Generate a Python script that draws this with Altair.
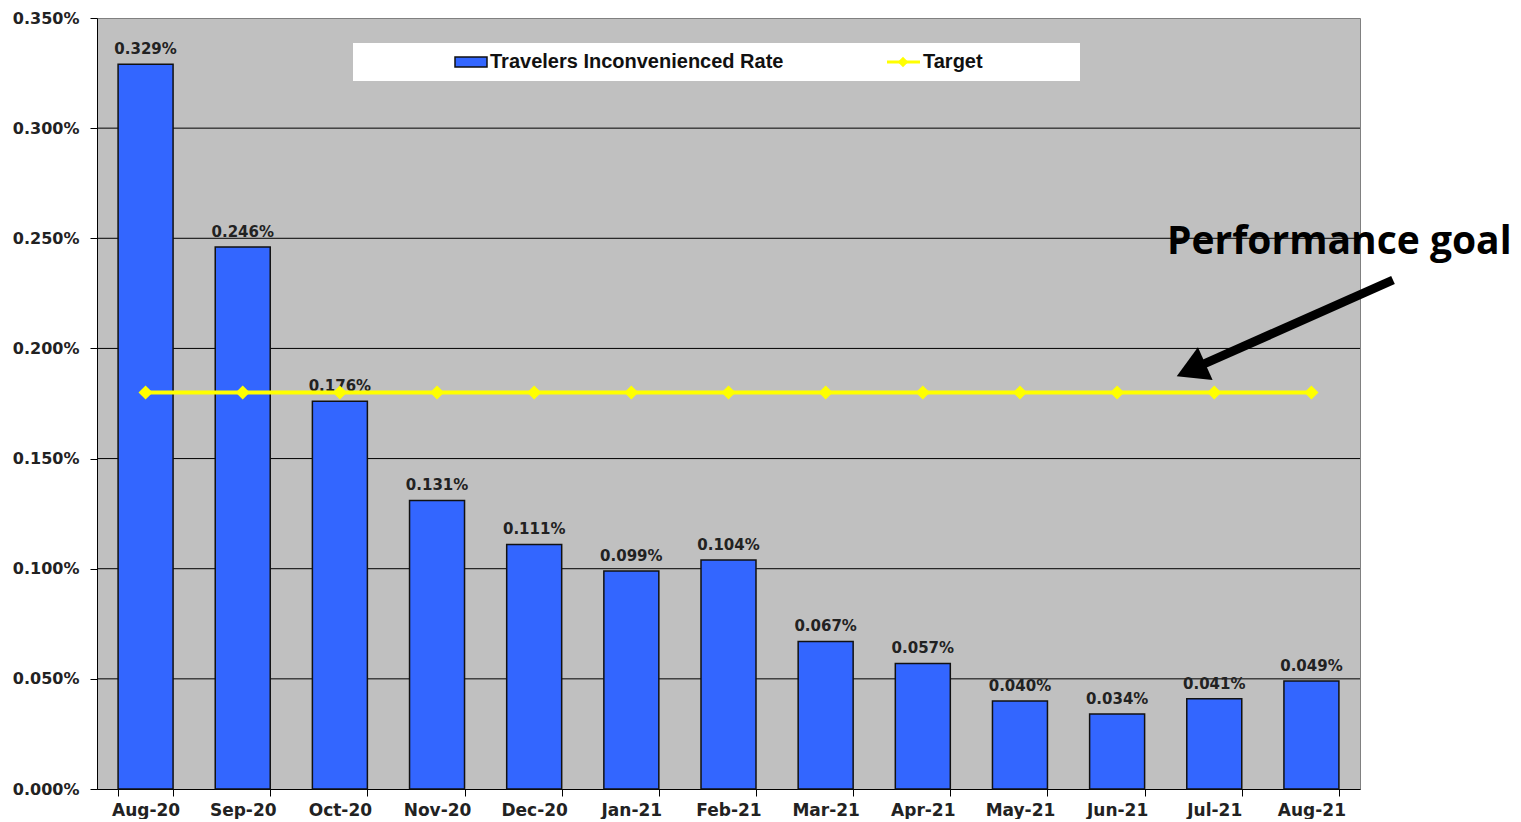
import altair as alt
import pandas as pd

months = ["Aug-20", "Sep-20", "Oct-20", "Nov-20", "Dec-20", "Jan-21", "Feb-21",
          "Mar-21", "Apr-21", "May-21", "Jun-21", "Jul-21", "Aug-21"]
rates = [0.329, 0.246, 0.176, 0.131, 0.111, 0.099, 0.104,
         0.067, 0.057, 0.040, 0.034, 0.041, 0.049]
target = [0.18] * 13
y_ticks = [0.0, 0.05, 0.10, 0.15, 0.20, 0.25, 0.30, 0.35]
grid_vals = [0.05, 0.10, 0.15, 0.20, 0.25, 0.30]

df = pd.DataFrame({"month": months, "rate": rates, "target": target})
df["label"] = [f"{v:.3f}%" for v in rates]
grid_df = pd.DataFrame({"g": grid_vals})
one = pd.DataFrame({"a": [0]})

BLUE = "#3366FF"
YELLOW = "#FFFF00"

xscale = alt.Scale(paddingInner=0.434, paddingOuter=0.217)
yscale = alt.Scale(domain=[0, 0.35], nice=False, zero=True)

x_axis = alt.Axis(title=None, labelAngle=0, labelFont="DejaVu Sans", labelFontWeight="bold",
                  labelFontSize=17, labelColor="#222222", tickBand="extent", tickSize=7,
                  tickColor="black", domainColor="black", labelPadding=6, grid=False)
y_axis = alt.Axis(title=None, values=y_ticks, labelExpr="format(datum.value, '.3f') + '%'",
                  labelFont="DejaVu Sans", labelFontWeight="bold", labelFontSize=16,
                  labelColor="#222222", tickSize=7, tickColor="black", domainColor="black",
                  labelPadding=11, grid=False)

x = alt.X("month:N", sort=months, scale=xscale, axis=x_axis)


def Y(field):
    return alt.Y(field, scale=yscale, axis=y_axis)


grid = alt.Chart(grid_df).mark_rule(color="black", strokeWidth=1).encode(y=Y("g:Q"))

bars = alt.Chart(df).mark_bar(color=BLUE, stroke="#111111", strokeWidth=1.5).encode(
    x=x, y=Y("rate:Q"))

labels = alt.Chart(df).mark_text(font="DejaVu Sans", fontWeight="bold", fontSize=15,
                                 color="#222222", baseline="alphabetic", dy=-10).encode(
    x=x, y=Y("rate:Q"), text="label:N")

tline = alt.Chart(df).mark_line(color=YELLOW, strokeWidth=4).encode(x=x, y=Y("target:Q"))
tpts = alt.Chart(df).mark_point(shape="diamond", filled=True, color=YELLOW, size=200,
                                opacity=1).encode(x=x, y=Y("target:Q"))

# legend (custom)
leg_box = alt.Chart(one).mark_rect(fill="white").encode(
    x=alt.value(256), x2=alt.value(983), y=alt.value(25), y2=alt.value(63))
leg_sw = alt.Chart(one).mark_rect(fill=BLUE, stroke="#111111", strokeWidth=1.5).encode(
    x=alt.value(358), x2=alt.value(390), y=alt.value(39), y2=alt.value(49))
leg_t1 = alt.Chart(one).mark_text(text="Travelers Inconvenienced Rate", font="Liberation Sans",
                                  fontWeight="bold", fontSize=20, color="#111111",
                                  align="left", baseline="middle").encode(
    x=alt.value(393), y=alt.value(44))
leg_ln = alt.Chart(one).mark_rule(color=YELLOW, strokeWidth=3).encode(
    x=alt.value(790), x2=alt.value(823), y=alt.value(44))
leg_pt = alt.Chart(one).mark_point(shape="diamond", filled=True, color=YELLOW, size=110,
                                   opacity=1).encode(x=alt.value(806), y=alt.value(44))
leg_t2 = alt.Chart(one).mark_text(text="Target", font="Liberation Sans", fontWeight="bold",
                                  fontSize=20, color="#111111", align="left",
                                  baseline="middle").encode(x=alt.value(826), y=alt.value(44))

# annotation
ann_text = alt.Chart(one).mark_text(text="Performance goal", font="Open Sans", fontWeight="bold",
                                    fontSize=39, color="black", align="left",
                                    baseline="middle").encode(x=alt.value(1070), y=alt.value(224))
ann_line = alt.Chart(one).mark_rule(color="black", strokeWidth=9, strokeCap="butt").encode(
    x=alt.value(1296), x2=alt.value(1100), y=alt.value(262), y2=alt.value(349))
ann_head = alt.Chart(one).mark_point(shape="triangle-up", filled=True, color="black", size=1300,
                                     angle=246, opacity=1).encode(x=alt.value(1094), y=alt.value(352))

chart = alt.layer(
    grid, bars, labels, tline, tpts,
    leg_box, leg_sw, leg_t1, leg_ln, leg_pt, leg_t2,
    ann_line, ann_head, ann_text,
).properties(
    width=1263, height=771,
    autosize=alt.AutoSizeParams(type="none"),
    padding={"left": 89, "top": 10, "right": 153, "bottom": 30},
    background="white",
).configure_view(fill="#C0C0C0", stroke="#808080", strokeWidth=1)

chart.save("out.html", embed_options={"renderer": "svg", "actions": False})
